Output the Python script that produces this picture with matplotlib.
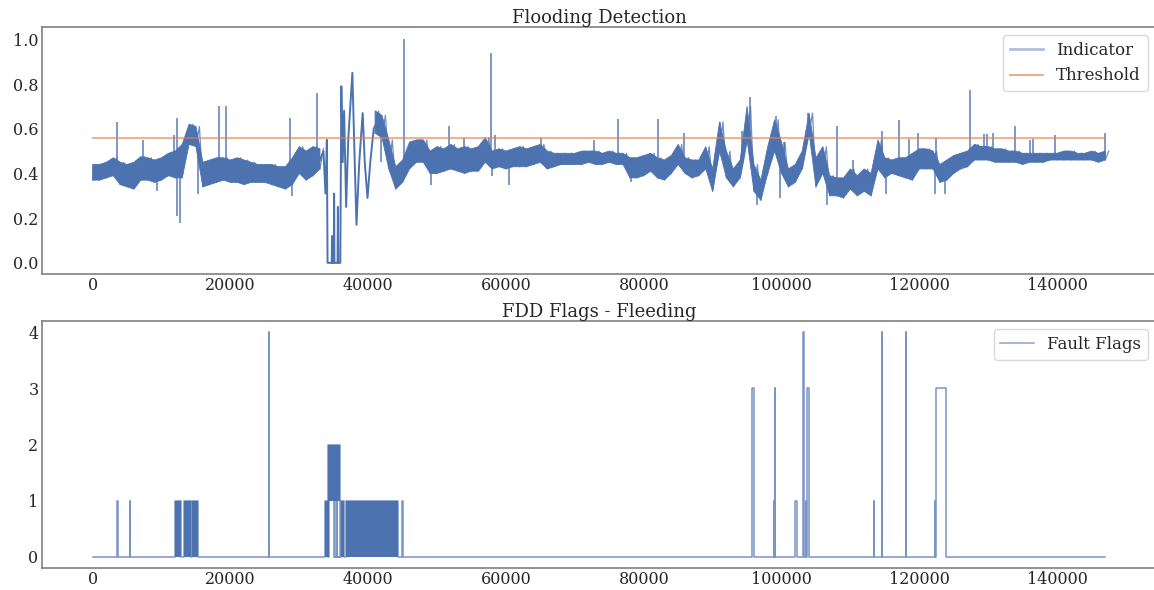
import numpy as np
import matplotlib
matplotlib.use("Agg")
import matplotlib.pyplot as plt
from matplotlib.lines import Line2D


BLUE = "#4c72b0"
ORANGE = "#dd8452"
TEXT = "#262626"
N_SAMPLES = 147000
THRESHOLD = 0.557

# indicator band: lower / upper envelope every 1000 samples (NaN where the trace below takes over)
band_x = np.arange(0, 148) * 1000
band_lo = [
    0.37, 0.37, 0.38, 0.39, 0.35, 0.34, 0.33, 0.37, 0.37, 0.36,
    0.37, 0.39, 0.38, 0.38, 0.53, 0.52, 0.34, 0.35, 0.36, 0.37,
    0.36, 0.36, 0.35, 0.36, 0.36, 0.36, 0.35, 0.34, 0.33, 0.35,
    0.40, 0.37, 0.39, 0.42, np.nan, np.nan, np.nan, np.nan, np.nan, np.nan,
    np.nan, 0.58, 0.56, 0.42, 0.33, 0.36, 0.42, 0.45, 0.45, 0.40,
    0.40, 0.41, 0.42, 0.41, 0.40, 0.41, 0.41, 0.45, 0.42, 0.43,
    0.42, 0.43, 0.43, 0.43, 0.44, 0.45, 0.42, 0.43, 0.44, 0.44,
    0.44, 0.44, 0.45, 0.44, 0.44, 0.45, 0.44, 0.44, 0.38, 0.38,
    0.39, 0.41, 0.38, 0.37, 0.40, 0.44, 0.40, 0.38, 0.39, 0.42,
    0.32, 0.50, 0.38, 0.34, 0.38, 0.55, 0.32, 0.28, 0.40, 0.50,
    0.40, 0.34, 0.36, 0.42, 0.58, 0.34, 0.40, 0.30, 0.30, 0.29,
    0.33, 0.30, 0.32, 0.30, 0.42, 0.38, 0.40, 0.39, 0.38, 0.37,
    0.42, 0.42, 0.42, 0.36, 0.37, 0.40, 0.42, 0.43, 0.46, 0.46,
    0.46, 0.45, 0.45, 0.45, 0.45, 0.44, 0.45, 0.45, 0.45, 0.46,
    0.46, 0.46, 0.46, 0.46, 0.46, 0.46, 0.45, 0.46,
]
band_hi = [
    0.44, 0.44, 0.45, 0.47, 0.45, 0.44, 0.45, 0.475, 0.47, 0.46,
    0.47, 0.49, 0.50, 0.53, 0.62, 0.61, 0.45, 0.46, 0.47, 0.47,
    0.46, 0.47, 0.46, 0.45, 0.44, 0.44, 0.44, 0.43, 0.43, 0.47,
    0.52, 0.50, 0.52, 0.51, np.nan, np.nan, np.nan, np.nan, np.nan, np.nan,
    np.nan, 0.68, 0.66, 0.55, 0.43, 0.46, 0.54, 0.55, 0.55, 0.50,
    0.52, 0.51, 0.53, 0.51, 0.52, 0.51, 0.52, 0.56, 0.50, 0.51,
    0.50, 0.51, 0.52, 0.51, 0.52, 0.53, 0.50, 0.49, 0.49, 0.49,
    0.49, 0.50, 0.50, 0.50, 0.49, 0.50, 0.49, 0.49, 0.47, 0.47,
    0.48, 0.49, 0.47, 0.46, 0.48, 0.53, 0.47, 0.46, 0.46, 0.52,
    0.42, 0.63, 0.50, 0.42, 0.46, 0.70, 0.44, 0.37, 0.52, 0.64,
    0.54, 0.42, 0.44, 0.50, 0.67, 0.47, 0.52, 0.39, 0.38, 0.38,
    0.42, 0.39, 0.42, 0.40, 0.55, 0.47, 0.46, 0.47, 0.47, 0.49,
    0.51, 0.51, 0.50, 0.44, 0.46, 0.48, 0.49, 0.50, 0.53, 0.52,
    0.52, 0.51, 0.51, 0.50, 0.50, 0.49, 0.49, 0.49, 0.49, 0.49,
    0.49, 0.50, 0.50, 0.49, 0.49, 0.50, 0.49, 0.50,
]

# the unstable stretch around 34k-41k samples, traced point by point
trace_x = [
    33000, 33500, 33800, 34000, 34100, 34700, 34750, 34800, 35000, 35050,
    35100, 35550, 35600, 35650, 35950, 36100, 36300, 36500, 36800, 37100,
    37700, 38000, 38300, 38700, 39200, 39500, 39900, 40300, 40800, 41300,
]
trace_y = [
    0.46, 0.50, 0.31, 0.55, 0.00, 0.00, 0.12, 0.00, 0.00, 0.31,
    0.00, 0.00, 0.25, 0.00, 0.00, 0.79, 0.45, 0.68, 0.25, 0.55,
    0.85, 0.50, 0.17, 0.45, 0.67, 0.45, 0.29, 0.45, 0.60, 0.63,
]

# isolated excursions away from the band
spike_x = [
    3600, 7300, 11800, 12300, 18300, 19400, 28700, 32500, 45200, 51700,
    53900, 57800, 58400, 65100, 72800, 76300, 82000, 85900, 91000, 94200,
    95400, 99200, 100300, 103900, 108100, 110300, 114600, 117000, 118500, 119800,
    122400, 127400, 129400, 129800, 130700, 133900, 136000, 136500, 139700, 146900,
    5800, 9400, 12200, 12700, 15300, 29000, 41900, 49100, 58000, 60400,
    78100, 96400, 99800, 106600, 115100, 122300, 123700,
]
spike_y = [
    0.63, 0.55, 0.57, 0.65, 0.70, 0.70, 0.65, 0.76, 1.00, 0.61,
    0.56, 0.94, 0.57, 0.56, 0.55, 0.645, 0.645, 0.58, 0.63, 0.59,
    0.74, 0.655, 0.54, 0.67, 0.61, 0.46, 0.59, 0.64, 0.555, 0.58,
    0.56, 0.775, 0.575, 0.575, 0.58, 0.61, 0.55, 0.555, 0.57, 0.58,
    0.33, 0.32, 0.21, 0.18, 0.31, 0.30, 0.45, 0.35, 0.39, 0.35,
    0.36, 0.26, 0.29, 0.26, 0.31, 0.31, 0.31,
]

# fault flag episodes: start, end, level, fill floor (None = drawn as outline only)
flag_start = [3480, 5420, 12000, 13210, 14370, 25600, 33690, 34170, 35100, 35400,
              36010, 36740, 44970, 95640, 98840, 99030, 101980, 103090, 103570, 103670,
              113360, 114560, 118000, 122300, 122450]
flag_end = [3630, 5460, 12780, 14230, 15250, 25640, 34310, 35910, 35130, 35430,
            36440, 44290, 45010, 95930, 98880, 99070, 102180, 103280, 103610, 103960,
            113450, 114600, 118040, 122340, 123810]
flag_level = [1, 1, 1, 1, 1, 4, 1, 2, 1, 1,
              1, 1, 1, 3, 1, 3, 1, 4, 1, 3,
              1, 4, 4, 1, 3]
flag_floor = [None, None, 0, 0, 0, None, 0, 1, None, None,
              0, 0, None, None, None, None, None, None, None, None,
              None, None, None, None, None]

plt.rcParams["font.family"] = "DejaVu Serif"
plt.rcParams["text.color"] = TEXT
plt.rcParams["xtick.color"] = TEXT
plt.rcParams["ytick.color"] = TEXT


def style_axes(ax):
    for side in ["top", "left", "bottom", "right"]:
        ax.spines[side].set_color("0.5")
        ax.spines[side].set_linewidth(1.2)
    ax.tick_params(length=0, pad=2.5, labelsize=11.5)
    ax.set_xticks(np.arange(0, 140001, 20000))


fig = plt.figure(figsize=(11.54, 5.90), dpi=100)
ax1 = fig.add_axes([0.0364, 0.5356, 0.9653, 0.4186])
ax2 = fig.add_axes([0.0364, 0.0373, 0.9653, 0.4186])

# top panel: indicator vs threshold
lo = np.array(band_lo, dtype=float)
hi = np.array(band_hi, dtype=float)
ax1.fill_between(band_x, lo, hi, color=BLUE, linewidth=0.6, edgecolor=BLUE)
zig_x = np.column_stack([band_x, band_x + 500]).ravel()
zig_y = np.column_stack([lo, hi]).ravel()
ax1.plot(zig_x, zig_y, color=BLUE, linewidth=0.9, alpha=0.8)
ax1.plot(trace_x, trace_y, color=BLUE, linewidth=1.4)
valid = ~np.isnan(lo)
mid = np.interp(spike_x, band_x[valid], ((lo + hi) / 2)[valid])
ax1.vlines(spike_x, mid, spike_y, color=BLUE, linewidth=1.2, alpha=0.85)
ax1.plot([0, N_SAMPLES], [THRESHOLD, THRESHOLD], color=ORANGE, alpha=0.6, linewidth=1.5)
ax1.set_xlim(-0.05 * N_SAMPLES, 1.05 * N_SAMPLES)
ax1.set_ylim(-0.05, 1.055)
ax1.set_yticks(np.arange(0, 1.01, 0.2))
ax1.set_yticklabels([f"{v:.1f}" for v in np.arange(0, 1.01, 0.2)])
ax1.set_title("Flooding Detection", fontsize=13, pad=3)
style_axes(ax1)
handles = [
    Line2D([], [], color=BLUE, alpha=0.45, linewidth=2),
    Line2D([], [], color=ORANGE, alpha=0.8, linewidth=1.2),
]
ax1.legend(handles, ["Indicator", "Threshold"], loc="upper right", fontsize=12,
           borderaxespad=0.5, handlelength=2.0, framealpha=1, edgecolor="0.85")

# bottom panel: fault flags as steps
px, py = [0], [0]
for s, e, v in sorted(zip(flag_start, flag_end, flag_level)):
    px += [s, s, e, e]
    py += [0, v, v, 0]
px.append(N_SAMPLES)
py.append(0)
ax2.plot(px, py, color=BLUE, linewidth=1.1, alpha=0.75)
for s, e, v, f in zip(flag_start, flag_end, flag_level, flag_floor):
    if f is not None:
        ax2.fill_between([s, e], f, v, color=BLUE, linewidth=0)
ax2.set_xlim(-0.05 * N_SAMPLES, 1.05 * N_SAMPLES)
ax2.set_ylim(-0.2, 4.2)
ax2.set_yticks([0, 1, 2, 3, 4])
ax2.set_title("FDD Flags - Fleeding", fontsize=13, pad=3)
style_axes(ax2)
ax2.legend([Line2D([], [], color=BLUE, alpha=0.6, linewidth=1.2)], ["Fault Flags"],
           loc="upper right", fontsize=12, borderaxespad=0.5, handlelength=2.0,
           framealpha=1, edgecolor="0.85")

fig.savefig("out.png", dpi=100)
